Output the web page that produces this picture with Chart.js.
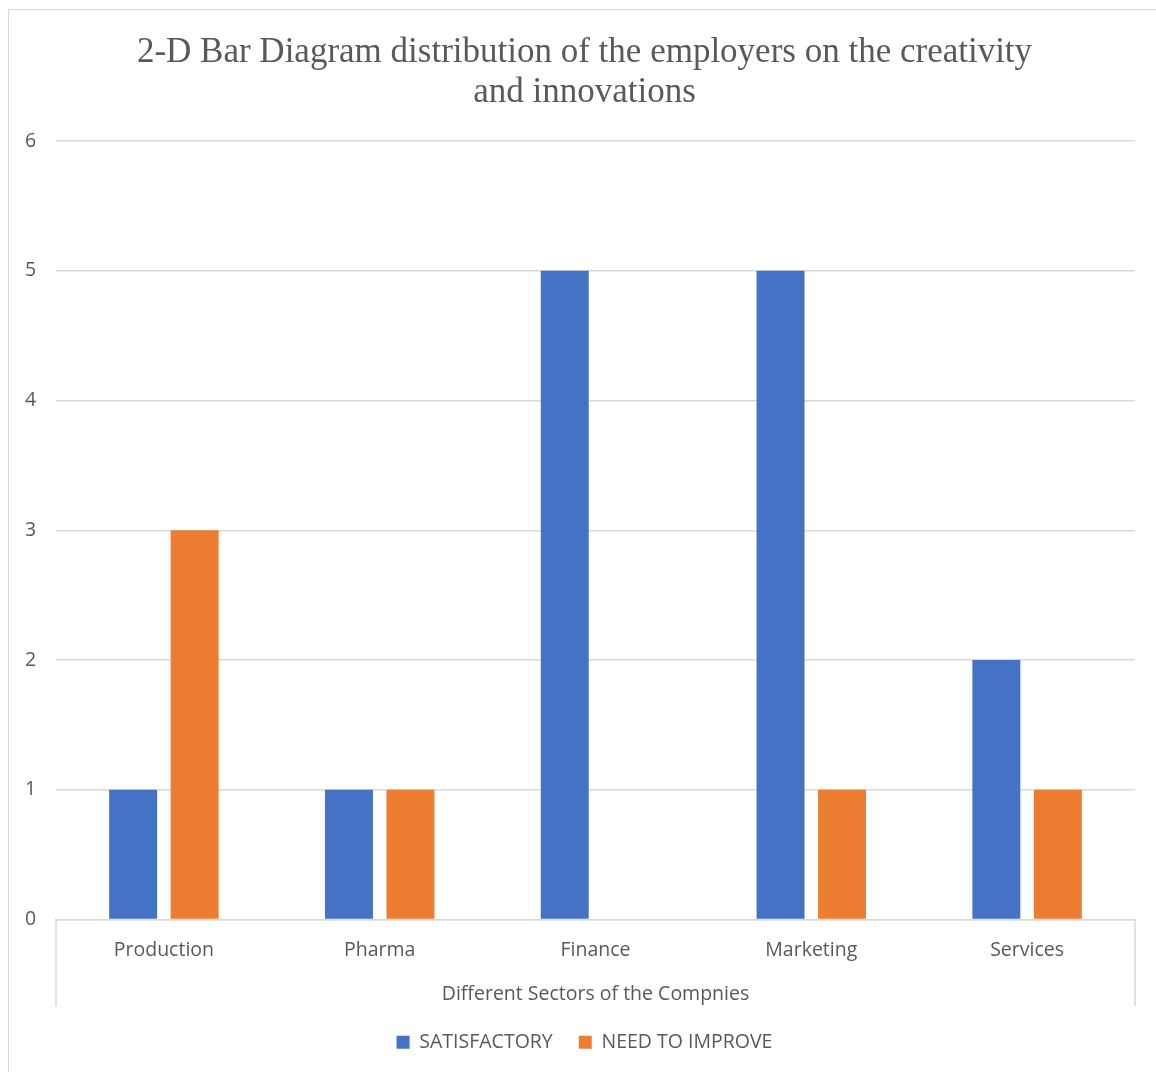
<!DOCTYPE html>
<html><head><meta charset="utf-8">
<script src="https://cdn.jsdelivr.net/npm/chart.js@4/dist/chart.umd.min.js"></script>
<style>
html,body{margin:0;padding:0;background:#fff;overflow:hidden;}
#frame{position:absolute;left:8px;top:9px;width:1160px;height:1080px;border:1px solid #d9d9d9;box-sizing:border-box;}
#wrap{position:absolute;left:0;top:0;width:1156px;height:1072px;}
</style></head>
<body>
<div id="frame"></div>
<div id="wrap"><canvas id="c" width="1156" height="1072"></canvas></div>
<script>
const categories = ["Production", "Pharma", "Finance", "Marketing", "Services"];
const satisfactory = [1, 1, 5, 5, 2];
const needToImprove = [3, 1, 0, 1, 1];
const seriesNames = ["SATISFACTORY", "NEED TO IMPROVE"];
const titleLines = ["2-D Bar Diagram distribution of the employers on the creativity", "and innovations"];
const xTitle = "Different Sectors of the Compnies";

const gridColor = "#d9d9d9";
const textColor = "#595959";
const sans = "'Open Sans', sans-serif";

const boxPlugin = {
  id: 'catBox',
  afterDraw(chart) {
    const ctx = chart.ctx, a = chart.chartArea, xs = chart.scales.x;
    ctx.save();
    ctx.strokeStyle = gridColor;
    ctx.lineWidth = 1.5;
    ctx.beginPath();
    ctx.moveTo(a.left, a.bottom); ctx.lineTo(a.left, xs.bottom);
    ctx.moveTo(a.right, a.bottom); ctx.lineTo(a.right, xs.bottom);
    ctx.stroke();
    ctx.restore();
  }
};

new Chart(document.getElementById('c'), {
  type: 'bar',
  data: {
    labels: categories,
    datasets: [
      { label: seriesNames[0], data: satisfactory, backgroundColor: '#4472C4' },
      { label: seriesNames[1], data: needToImprove, backgroundColor: '#ED7D31' }
    ]
  },
  options: {
    responsive: false,
    animation: false,
    devicePixelRatio: 1,
    categoryPercentage: 0.57,
    barPercentage: 0.78,
    layout: { padding: { left: 34, right: 21, top: 0, bottom: 10 } },
    plugins: {
      title: {
        display: true,
        text: titleLines,
        color: textColor,
        font: { family: "'Liberation Serif', serif", size: 35, weight: 'normal', lineHeight: 1.143 },
        padding: { top: 33, bottom: 28 }
      },
      legend: {
        position: 'bottom',
        labels: {
          color: textColor,
          font: { family: sans, size: 19.5 },
          boxWidth: 13, boxHeight: 13,
          padding: 26
        }
      },
      tooltip: { enabled: false }
    },
    scales: {
      x: {
        grid: { display: false, drawTicks: false },
        border: { display: true, color: gridColor, width: 1.5 },
        ticks: { color: textColor, font: { family: sans, size: 19.5 }, padding: 19 },
        title: { display: true, text: xTitle, color: textColor, font: { family: sans, size: 19.5 }, padding: { top: 12, bottom: 0 } },
        afterFit(s) { s.height = 87; }
      },
      y: {
        min: 0, max: 6,
        ticks: { stepSize: 1, color: textColor, font: { family: sans, size: 19.5 }, mirror: true, padding: -31 },
        grid: { color: gridColor, drawTicks: false, lineWidth: 1.5 },
        border: { display: false },
        afterFit(s) { s.width = 22; }
      }
    }
  },
  plugins: [boxPlugin]
});
</script>
</body></html>
